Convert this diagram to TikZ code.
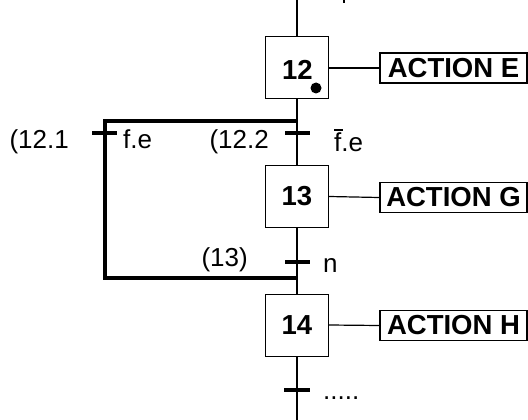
\documentclass[tikz,border=0pt]{standalone}
\usepackage{fontspec}
\setmainfont{Liberation Sans}
\begin{document}
\begin{tikzpicture}[x=1pt,y=-1pt,
  every node/.style={font=\fontsize{26}{31}\selectfont, inner sep=0pt},
  boldtxt/.style={font=\fontsize{27.5}{32}\selectfont\bfseries},
  stepbox/.style={draw, line width=1pt, minimum width=63pt, minimum height=62pt, boldtxt},
  actbox/.style={draw, line width=1.4pt, minimum width=147pt, minimum height=30pt, boldtxt},
  link/.style={line width=1.2pt},
  loopline/.style={line width=3.6pt},
  tick/.style={line width=3.8pt},
  lbl/.style={anchor=base west},
  lblr/.style={anchor=base east}]
\useasboundingbox (0,0) rectangle (528,420);

% steps and actions
\node[stepbox] (s12) at (297,68) {};
\node[boldtxt] (n12) at (297.5,70) {12};
\fill (316,88) circle (5.5pt);
\node[actbox] (aE) at (453.5,68) {ACTION E};

\node[stepbox] (s13) at (297,196.5) {13};
\node[actbox] (aG) at (453.5,197.5) {ACTION G};

\node[stepbox] (s14) at (297,325) {14};
\node[actbox] (aH) at (453.5,325.5) {ACTION H};

% link points
\coordinate (top) at (297,0);
\coordinate (bot) at (297,420);
\coordinate (jA) at (297,121);
\coordinate (jB) at (297,278);
\coordinate (cA) at (105,121);
\coordinate (cB) at (105,278);

% main sequence
\draw[link] (top) -- (s12.north);
\draw[link] (s12.south) -- (s13.north);
\draw[link] (s13.south) -- (s14.north);
\draw[link] (s14.south) -- (bot);
\draw[link] (s12.east) -- (aE.west);
\draw[link] (s13.east) -- (aG.west);
\draw[link] (s14.east) -- (aH.west);

% jump back
\draw[loopline] (jA) -- (cA) -- (cB) -- (jB);

% transitions
\coordinate (t1a) at (92,133);  \coordinate (t1b) at (117,133);
\coordinate (t2a) at (285,133); \coordinate (t2b) at (310,133);
\coordinate (t3a) at (285,262); \coordinate (t3b) at (310,262);
\coordinate (t4a) at (284,390); \coordinate (t4b) at (310,390);
\draw[tick] (t1a) -- (t1b);
\draw[tick] (t2a) -- (t2b);
\draw[tick] (t3a) -- (t3b);
\draw[tick] (t4a) -- (t4b);
\draw[line width=2pt] (344,0) -- (344,3.5);

% transition labels
\node[lblr] (l121) at (69,149) {(12.1};
\node[lbl] (c121) at (123,149) {f.e};
\node[lblr] (l122) at (269,149) {(12.2};
\node[lbl] (c122) at (334,151) {\rlap{\raisebox{20.5pt}{\rule{8.5pt}{1.4pt}}}f.e};
\node[lblr] (l13) at (248,266) {(13)};
\node[lbl] (c13) at (323,272) {n};
\node[lbl] (c14) at (323,399) {.....};
\end{tikzpicture}
\end{document}
